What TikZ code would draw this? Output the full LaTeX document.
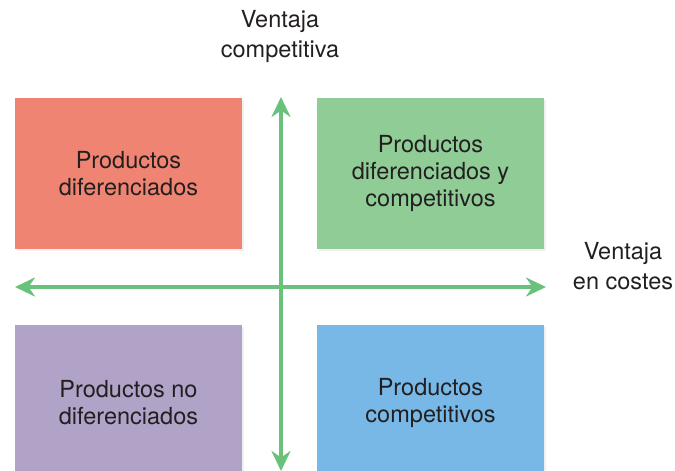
\documentclass[tikz,border=0pt]{standalone}
\usepackage{fontspec}
\setmainfont{TeX Gyre Heros}
\usepackage{tikz}
\usetikzlibrary{arrows.meta,positioning,shadows}
\definecolor{quadred}{HTML}{F08473}
\definecolor{quadgreen}{HTML}{90CC96}
\definecolor{quadpurple}{HTML}{B1A2C8}
\definecolor{quadblue}{HTML}{77B8E6}
\definecolor{axisgreen}{HTML}{6AC17C}
\definecolor{txt}{HTML}{231F20}
\tikzstyle{quad} = [rectangle, minimum width=227pt, minimum height=151pt, inner sep=0pt, outer sep=0pt, align=center, text=txt, font=\fontsize{23.5}{27}\selectfont, drop shadow={opacity=0.12, shadow xshift=2pt, shadow yshift=-2pt}]
\tikzstyle{axis} = [line width=4pt, axisgreen, {Stealth[length=20pt,width=19pt]}-{Stealth[length=20pt,width=19pt]}]
\tikzstyle{lbl} = [align=center, text=txt, font=\fontsize{23.5}{30}\selectfont]

\begin{document}
\begin{tikzpicture}[x=1pt,y=-1pt]
\useasboundingbox (0,0) rectangle (675,471);

\node[quad,fill=quadred] (dif) at (128.5,173.5) {Productos\\diferenciados};
\node[quad,fill=quadgreen,right=75pt of dif] (difcomp) {Productos\\diferenciados y\\competitivos};
\node[quad,fill=quadpurple,minimum height=146pt,below=76pt of dif] (nodif) {\\Productos no\\diferenciados};
\node[quad,fill=quadblue,minimum height=146pt,below=76pt of difcomp] (comp) {\\Productos\\competitivos};

\coordinate (top) at (281,97);
\coordinate (bot) at (281,471);
\coordinate (left) at (15,287);
\coordinate (right) at (546,287);

\draw[axis] (bot) -- (top);
\draw[axis] (left) -- (right);

\node[lbl] (vcomp) at (280,36) {Ventaja\\competitiva};
\node[lbl] (vcost) at (623,266) {Ventaja\\en costes};
\end{tikzpicture}
\end{document}
